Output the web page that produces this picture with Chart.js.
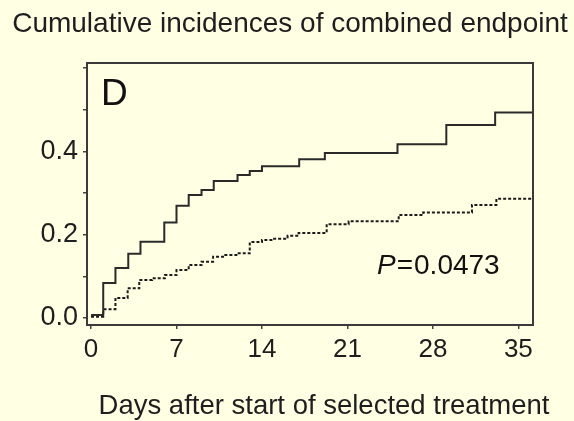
<!DOCTYPE html>
<html>
<head>
<meta charset="utf-8">
<script src="https://cdn.jsdelivr.net/npm/chart.js@4/dist/chart.umd.min.js"></script>
<style>
  html, body { margin: 0; padding: 0; background: #FFFFE4; }
  #wrap { width: 574px; height: 421px; position: relative; }
</style>
</head>
<body>
<div id="wrap"><canvas id="c" width="574" height="421"></canvas></div>
<script>
// ---- data ----
const solidDays   = [0, 1, 2, 3.05, 4.05, 6, 7, 8, 9.05, 10.05, 12, 13, 14, 17.05, 19.15, 25.1, 29.1, 33.1, 36.2];
const solidValues = [0.007, 0.084, 0.12, 0.154, 0.183, 0.229, 0.269, 0.295, 0.307, 0.329, 0.343, 0.353, 0.364, 0.381, 0.396, 0.417, 0.463, 0.493, 0.493];

const dashedDays   = [0, 1, 2, 3, 3.95, 5, 6.05, 7, 8, 9.05, 10, 11, 12, 13, 14, 15, 16.1, 17, 19.3, 21.1, 25.2, 27.2, 31.2, 33.2, 36.2];
const dashedValues = [0.003, 0.021, 0.048, 0.071, 0.091, 0.095, 0.103, 0.115, 0.127, 0.135, 0.147, 0.151, 0.155, 0.182, 0.187, 0.19, 0.197, 0.204, 0.225, 0.232, 0.247, 0.253, 0.271, 0.286, 0.286];

const xTickValues = [0, 7, 14, 21, 28, 35];
const yTickValues = [0, 0.1, 0.2, 0.3, 0.4, 0.5, 0.6];
const yTickLabels = ['0.0', '', '0.2', '', '0.4', '', ''];

const chartTitle = 'Cumulative incidences of combined endpoint';
const xTitle = 'Days after start of selected treatment';
const panelLabel = 'D';
const pLabel = 'P';
const pEquals = '=';
const pValueText = '0.0473';

const FONT = "'Liberation Sans', Arial, Helvetica, sans-serif";
const INK = '#1e1e1e';

const toXY = (xs, ys) => xs.map((x, i) => ({ x: x, y: ys[i] }));

const decor = {
  id: 'decor',
  afterDraw(chart) {
    const ctx = chart.ctx;
    const a = chart.chartArea;
    ctx.save();
    // frame
    ctx.strokeStyle = '#3a3a3a';
    ctx.lineWidth = 2;
    ctx.strokeRect(a.left, a.top, a.right - a.left, a.bottom - a.top);
    ctx.fillStyle = INK;
    ctx.textBaseline = 'alphabetic';
    // chart title
    ctx.textAlign = 'center';
    ctx.font = "28px " + FONT;
    ctx.fillText(chartTitle, 290, 32);
    // x axis title
    ctx.font = "27.5px " + FONT;
    ctx.fillText(xTitle, 324, 414);
    // panel label
    ctx.textAlign = 'left';
    ctx.fillStyle = '#111';
    ctx.font = "37px " + FONT;
    ctx.fillText(panelLabel, 101, 105);
    // P value
    let x = 377;
    ctx.font = "italic 28px " + FONT;
    ctx.fillText(pLabel, x, 274);
    x += ctx.measureText(pLabel).width + 1;
    ctx.font = "28px " + FONT;
    ctx.fillText(pEquals, x, 274);
    x += ctx.measureText(pEquals).width + 1;
    ctx.fillText(pValueText, x, 274);
    ctx.restore();
  }
};

new Chart(document.getElementById('c'), {
  type: 'line',
  data: {
    datasets: [
      {
        label: 'solid',
        data: toXY(solidDays, solidValues),
        stepped: true,
        borderColor: '#2a2a2a',
        borderWidth: 2,
        pointRadius: 0,
        fill: false
      },
      {
        label: 'dashed',
        data: toXY(dashedDays, dashedValues),
        stepped: true,
        borderColor: '#1a1a1a',
        borderWidth: 2,
        borderDash: [3, 2],
        pointRadius: 0,
        fill: false
      }
    ]
  },
  options: {
    responsive: false,
    animation: false,
    layout: { padding: { left: 0, right: 41, top: 63, bottom: 0 } },
    plugins: {
      legend: { display: false },
      tooltip: { enabled: false },
      title: { display: false }
    },
    scales: {
      x: {
        type: 'linear',
        min: -0.33,
        max: 36.2,
        afterFit(scale) { scale.height = 96; },
        afterBuildTicks(scale) { scale.ticks = xTickValues.map(v => ({ value: v })); },
        grid: { display: true, drawOnChartArea: false, drawTicks: true, tickLength: 4, color: '#444', lineWidth: 1.5 },
        border: { display: true, color: '#3a3a3a', width: 2 },
        ticks: {
          color: INK,
          font: { family: FONT, size: 26 },
          padding: 5,
          maxRotation: 0,
          autoSkip: false,
          callback: (v) => String(v)
        }
      },
      y: {
        type: 'linear',
        min: -0.017,
        max: 0.612,
        afterFit(scale) { scale.width = 87; },
        afterBuildTicks(scale) { scale.ticks = yTickValues.map(v => ({ value: v })); },
        grid: { display: true, drawOnChartArea: false, drawTicks: true, tickLength: 4, color: '#444', lineWidth: 1.5 },
        border: { display: true, color: '#3a3a3a', width: 2 },
        ticks: {
          color: INK,
          font: { family: FONT, size: 27 },
          padding: 5,
          autoSkip: false,
          callback: (v, i) => yTickLabels[i]
        }
      }
    }
  },
  plugins: [decor]
});
</script>
</body>
</html>
